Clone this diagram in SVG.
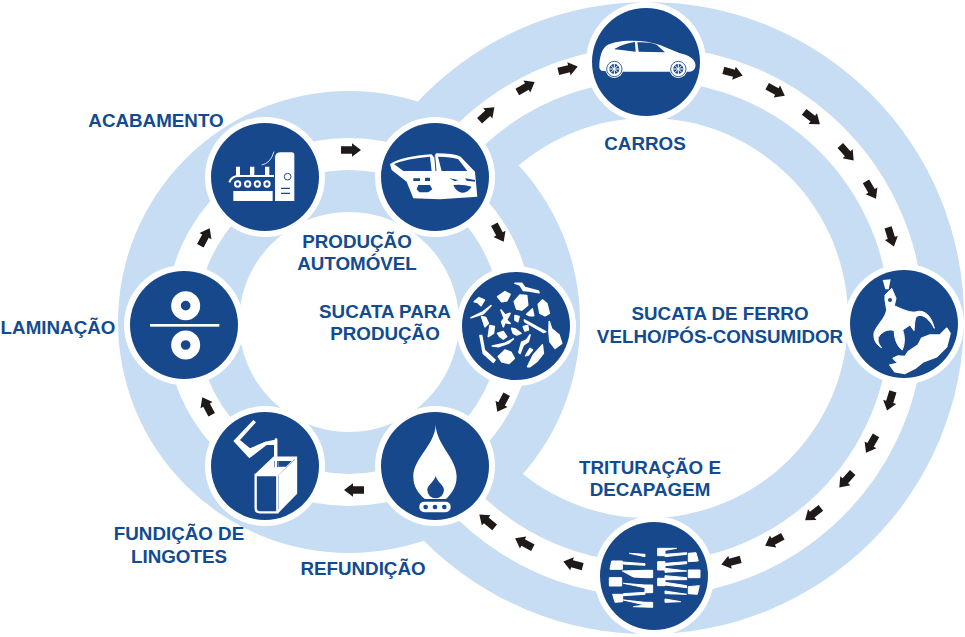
<svg xmlns="http://www.w3.org/2000/svg" width="965" height="637" viewBox="0 0 965 637">
<style>
.t{font-family:"Liberation Sans",Arial,sans-serif;font-weight:700;font-size:18.8px;fill:#124b90;text-anchor:middle}
.n{fill:#18488c}.w{fill:#fff}.d{fill:#18488c}
.lt{fill:#c7ddf4}
.fat{stroke:#fff;stroke-width:5;stroke-linejoin:round}
.fat2{stroke:#fff;stroke-width:3;stroke-linejoin:round}
</style>
<defs>
<path id="a" d="M-10-3.7H1V-6.8L10 0 1 6.8V3.7H-10Z" fill="#1f1a17"/>
</defs>
<rect width="965" height="637" fill="#fff"/>
<g id="rings">
<circle class="lt" cx="648" cy="318" r="316"/>
<circle class="w" cx="648" cy="318" r="200"/>
<circle class="lt" cx="349" cy="322" r="231"/>
<circle class="w" cx="349" cy="322" r="110"/>
<circle cx="349" cy="322" r="168" fill="none" stroke="#fff" stroke-width="32"/>
<path d="M435 177A258 258 0 1 1 435 466" fill="none" stroke="#fff" stroke-width="34"/>
</g>
<g id="connectors">
<use href="#a" transform="translate(487,114) rotate(-42)"/>
<use href="#a" transform="translate(526,87) rotate(-30)"/>
<use href="#a" transform="translate(568,69) rotate(-14)"/>
<use href="#a" transform="translate(733,73) rotate(15)"/>
<use href="#a" transform="translate(776,91) rotate(28)"/>
<use href="#a" transform="translate(812,118) rotate(38)"/>
<use href="#a" transform="translate(847,153) rotate(48)"/>
<use href="#a" transform="translate(871,190) rotate(60)"/>
<use href="#a" transform="translate(891,237) rotate(73)"/>
<use href="#a" transform="translate(890,401) rotate(107)"/>
<use href="#a" transform="translate(871,444) rotate(120)"/>
<use href="#a" transform="translate(846,480) rotate(132)"/>
<use href="#a" transform="translate(813,514) rotate(142)"/>
<use href="#a" transform="translate(774,541) rotate(152)"/>
<use href="#a" transform="translate(731,562) rotate(165)"/>
<use href="#a" transform="translate(573,564) rotate(195)"/>
<use href="#a" transform="translate(524,543) rotate(208)"/>
<use href="#a" transform="translate(487,521) rotate(220)"/>
<use href="#a" transform="translate(351,150)"/>
<use href="#a" transform="translate(499,233) rotate(62)"/>
<use href="#a" transform="translate(502,403) rotate(118)"/>
<use href="#a" transform="translate(354,490) rotate(180)"/>
<use href="#a" transform="translate(207,406) rotate(242)"/>
<use href="#a" transform="translate(205,237) rotate(298)"/>
</g>
<g id="carros">
<circle class="w" cx="646" cy="62" r="60"/><circle class="n" cx="646" cy="62" r="54"/>
<g transform="translate(580,0) scale(.3333)">
<path class="w" d="M58 200C58 180 62 160 70 148C78 134 92 128 130 123C170 120 210 124 240 135C262 144 280 152 300 160C325 165 340 175 345 188C349 200 345 212 330 215H130L70 213C62 212 58 208 58 200Z"/>
<path class="d" d="M103 147C122 136 142 129 165 126L167 155L125 150C115 149 108 149 103 147ZM172 127C195 126 215 128 230 134L255 157L176 155Z"/>
<g><circle class="w" cx="103" cy="207" r="27"/><circle cx="103" cy="207" r="23" fill="none" stroke="#18488c" stroke-width="2.5"/><circle class="d" cx="103" cy="207" r="15"/><path d="M103 192V222M88 207H118M92 196L114 218M114 196L92 218" stroke="#fff" stroke-width="3"/></g>
<g><circle class="w" cx="295" cy="207" r="27"/><circle cx="295" cy="207" r="23" fill="none" stroke="#18488c" stroke-width="2.5"/><circle class="d" cx="295" cy="207" r="15"/><path d="M295 192V222M280 207H310M284 196L306 218M306 196L284 218" stroke="#fff" stroke-width="3"/></g>
</g>
</g>
<g id="acabamento">
<circle class="w" cx="265" cy="177" r="60"/><circle class="n" cx="265" cy="177" r="54"/>
<g transform="translate(200,110) scale(.3333)">
<path class="w" d="M225 145Q225 127 240 127H275Q283 127 283 135V273H225Z"/>
<circle cx="263" cy="200" r="10" fill="#fff" stroke="#18488c" stroke-width="3"/>
<path d="M243 235H270M243 250H270" stroke="#18488c" stroke-width="4"/>
<path class="w" d="M108 170H120V200H108ZM150 170H163V200H150ZM195 170H208V200H195Z"/>
<path d="M88 217Q95 198 115 198H222" fill="none" stroke="#fff" stroke-width="6"/>
<g class="w"><circle cx="113" cy="222" r="11"/><circle cx="143" cy="222" r="11"/><circle cx="172" cy="222" r="11"/><circle cx="201" cy="222" r="11"/></g>
<g class="d"><circle cx="113" cy="222" r="5"/><circle cx="143" cy="222" r="5"/><circle cx="172" cy="222" r="5"/><circle cx="201" cy="222" r="5"/></g>
<rect class="w" x="100" y="243" width="118" height="30"/>
<path d="M185 165Q212 160 222 125" fill="none" stroke="#fff" stroke-width="2.5"/>
</g>
</g>
<g id="producao">
<circle class="w" cx="435" cy="177" r="60"/><circle class="n" cx="435" cy="177" r="54"/>
<g transform="translate(200,110) scale(.3333)">
<path class="w" d="M570 162Q610 138 695 133L702 142L708 130Q760 130 782 140L825 185L832 260L720 268L640 265L620 215L575 180Z"/>
<path class="d" d="M582 162Q620 146 690 140L695 183H610ZM714 140Q755 140 775 148L802 183H725Z"/>
<path d="M704 135L708 183" stroke="#18488c" stroke-width="3"/>
<path class="d" d="M640 205H660V213H640ZM675 203H690V213H675ZM655 225H690L697 238L685 247H658L650 238ZM748 205L775 210L765 214ZM795 205L825 210L825 215L800 212ZM760 225Q790 222 815 230Q805 248 785 248Q768 245 760 225Z"/>
</g>
</g>
<g id="sucata-producao">
<circle class="w" cx="516" cy="326" r="60"/><circle class="n" cx="516" cy="326" r="54"/>
<g transform="translate(455,265) scale(.3333)" class="w fat">
<path d="M180 55L200 55L210 68L250 78L252 83L222 78L205 76L195 60ZM58 110L72 98L88 105L78 122L68 112ZM128 95L150 80L165 88L155 108L140 110ZM178 110L195 90L215 92L218 120L200 135L185 132ZM215 148L232 132L236 152L225 152ZM250 118L262 105L275 115L283 145L270 152L255 145ZM48 158L85 140L108 122L85 146ZM80 155L92 158L100 175L90 185ZM105 182L118 185L115 205L100 215ZM128 205L145 200L155 215L145 222L135 215ZM170 190L180 192L198 205L185 210L175 205ZM208 165L272 200L265 202L210 170ZM205 185L218 182L220 195L210 198ZM180 152L192 155L188 170L180 165ZM138 135L150 150L165 145L155 165L165 175L150 172L145 185L140 170L148 160ZM75 212L80 212L88 255L120 285L115 292L85 265ZM112 243L150 235L175 222L160 235L130 245ZM130 275L150 255L168 262L178 280L162 295L140 290ZM192 262L200 232L215 225L225 210L220 230L205 240L195 265ZM212 272L225 250L232 255L220 270ZM218 305L235 270L262 240L265 265L245 290L225 305ZM283 170L290 192L312 210L320 235L300 250L285 230L282 200Z"/>
</g>
</g>
<g id="refundicao">
<circle class="w" cx="435" cy="466" r="60"/><circle class="n" cx="435" cy="466" r="54"/>
<g transform="translate(200,405) scale(.3333)">
<path class="w" d="M707 60C705 120 640 160 640 215C640 245 655 265 675 282H738C755 265 770 245 770 215C770 160 710 120 707 60Z"/>
<path class="d" d="M707 213C700 235 682 240 682 255A25 25 0 0 0 732 255C732 240 714 235 707 213Z"/>
<rect class="w" x="658" y="290" width="94" height="32" rx="15"/>
<g class="d"><circle cx="677" cy="306" r="7"/><circle cx="705" cy="306" r="7"/><circle cx="733" cy="306" r="7"/></g>
</g>
</g>
<g id="fundicao">
<circle class="w" cx="265" cy="466" r="60"/><circle class="n" cx="265" cy="466" r="54"/>
<g transform="translate(200,405) scale(.3333)">
<path class="w" d="M160 45L168 52L120 105L150 130L195 110L232 103V190H222V120L200 120L148 160L100 108Z"/>
<path d="M167 210H232V322H180Q167 322 167 310ZM167 210L222 158H288V265L232 322" fill="none" stroke="#fff" stroke-width="7"/>
<path class="w" d="M236 210L288 160V265L236 318Z"/>
<path class="w" d="M170 207L222 158H288L236 210Z"/>
<path class="d" d="M236 168H275L258 185H236ZM223 168V187H235V168Z"/>
<path d="M228 100V210" stroke="#fff" stroke-width="7"/>
</g>
</g>
<g id="laminacao">
<circle class="w" cx="184" cy="325" r="60"/><circle class="n" cx="184" cy="325" r="54"/>
<g transform="translate(120,260) scale(.3333)">
<circle cx="197" cy="137" r="29" fill="none" stroke="#fff" stroke-width="29"/>
<circle cx="197" cy="255" r="29" fill="none" stroke="#fff" stroke-width="29"/>
<rect class="w" x="90" y="192" width="208" height="8"/>
</g>
</g>
<g id="sucata-ferro">
<circle class="w" cx="904" cy="324" r="60"/><circle class="n" cx="904" cy="324" r="54"/>
<g transform="translate(840,260) scale(.3333)" class="w">
<path d="M128 60L152 58L146 88L136 88Z"/>
<path class="fat2" d="M135 105L155 85L168 115L163 137C190 150 215 160 230 155C255 148 275 170 283 205C270 180 250 160 232 168C222 175 225 195 222 212L210 195L188 210C195 230 195 250 187 270C172 260 162 235 163 212C145 205 125 215 115 232C112 245 118 255 125 263C108 255 98 235 103 215C115 190 135 175 140 150L135 120Z"/>
<circle class="d" cx="150" cy="120" r="6"/>
<path class="fat" d="M150 315L175 310L160 295L175 288L195 290L205 275L235 255L245 235L270 225L300 225L320 205L330 220L320 260L290 290L250 305L225 325L195 340L165 335Z"/>
</g>
</g>
<g id="trituracao">
<circle class="w" cx="654" cy="576" r="60"/><circle class="n" cx="654" cy="576" r="54"/>
<g transform="translate(590,515) scale(.3333)" class="w fat2">
<polygon points="118,115 165,118 165,125"/>
<polygon points="65,138 97,138 97,163 60,163"/>
<polygon points="97,141 165,146 165,151 97,147"/>
<polygon points="97,168 165,166 188,166 188,188 165,188 130,186"/>
<polygon points="58,188 95,188 95,213 58,213"/>
<polygon points="100,205 165,210 188,210 188,233 165,233 165,218"/>
<polygon points="68,238 98,238 98,260 75,262"/>
<polygon points="100,236 165,232 165,238 100,242"/>
<polygon points="100,255 165,262 188,262 188,277 130,275 165,270"/>
<polygon points="203,100 260,100 225,106 225,122 203,122"/>
<polygon points="225,118 290,113 290,118 225,125"/>
<polygon points="295,115 318,113 325,138 295,140"/>
<polygon points="203,140 225,140 225,145 290,140 290,146 225,152 225,165 203,165"/>
<polygon points="225,160 290,168 225,172"/>
<polygon points="295,165 330,165 330,188 295,188"/>
<polygon points="203,190 225,190 225,182 290,188 290,194 225,194 225,212 203,212"/>
<polygon points="225,202 290,212 290,218 225,210"/>
<polygon points="295,215 328,212 322,238 295,236"/>
<polygon points="225,228 290,238 225,236"/>
<polygon points="225,252 272,260 225,262"/>
</g>
</g>
<g id="labels">
<text class="t" x="156" y="127">ACABAMENTO</text>
<text class="t" x="357" y="248">PRODUÇÃO</text><text class="t" x="357" y="270">AUTOMÓVEL</text>
<text class="t" x="385" y="318">SUCATA PARA</text><text class="t" x="385" y="340">PRODUÇÃO</text>
<text class="t" x="58" y="334">LAMINAÇÃO</text>
<text class="t" x="179" y="540">FUNDIÇÃO DE</text><text class="t" x="179" y="563">LINGOTES</text>
<text class="t" x="363" y="575">REFUNDIÇÃO</text>
<text class="t" x="650" y="474">TRITURAÇÃO E</text><text class="t" x="650" y="496">DECAPAGEM</text>
<text class="t" x="720" y="320">SUCATA DE FERRO</text><text class="t" x="720" y="343">VELHO/PÓS-CONSUMIDOR</text>
<text class="t" x="645" y="150">CARROS</text>
</g>
</svg>
